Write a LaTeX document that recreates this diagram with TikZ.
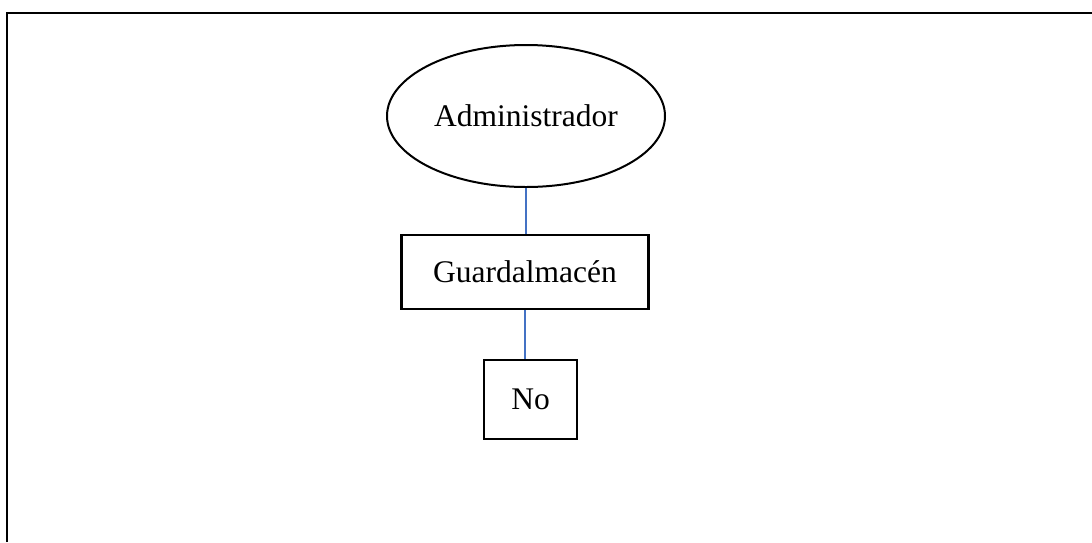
\documentclass[tikz,border=0pt]{standalone}
\usepackage{fontspec}
\setmainfont{Liberation Serif}
\usetikzlibrary{shapes.geometric}
\begin{document}
\begin{tikzpicture}[x=1pt,y=-1pt,
  lbl/.style={font=\fontsize{31.5}{36}\selectfont, inner sep=0pt, text=black},
  rolebox/.style={lbl, draw=black, line width=2.4pt, rectangle},
  roleoval/.style={lbl, draw=black, line width=2pt, ellipse},
  link/.style={draw={rgb,255:red,68;green,114;blue,196}, line width=2.2pt}]
  \useasboundingbox (0,0) rectangle (1092,542);
  % page frame: top and left edges
  \coordinate (fl) at (7,542);
  \coordinate (fc) at (7,13);
  \coordinate (fr) at (1092,13);
  \draw[line width=2.6pt] (fl) -- (fc) -- (fr);
  % chart
  \node[roleoval, minimum width=278pt, minimum height=142pt] (adm) at (526,116) {Administrador};
  \node[rolebox, minimum width=247pt, minimum height=74pt] (guard) at (525,272) {Guardalmacén};
  \node[rolebox, minimum width=93pt, minimum height=79pt] (no) at (530.5,399.5) {No};
  \draw[link] (adm.south) -- (adm.south |- guard.north);
  \draw[link] (guard.south) -- (guard.south |- no.north);
\end{tikzpicture}
\end{document}
